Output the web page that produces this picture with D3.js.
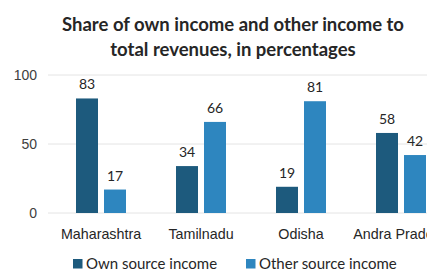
<!DOCTYPE html>
<html>
<head>
<meta charset="utf-8">
<script src="https://cdn.jsdelivr.net/npm/d3@7"></script>
<style>
  body { margin: 0; background: #fff; }
  svg { display: block; font-family: Lato, "Open Sans", sans-serif; }
  .title { font-weight: bold; font-size: 18.5px; fill: #262626; }
  .axis text { font-size: 14px; fill: #404040; }
  .x.axis text { font-size: 14.3px; fill: #262626; }
  .label { font-size: 14px; fill: #262626; }
  .legend text { font-size: 15px; fill: #262626; }
</style>
</head>
<body>
<div class="chart"></div>
<script>
var states = ["Maharashtra", "Tamilnadu", "Odisha", "Andra Pradesh"];
var seriesNames = ["Own source income", "Other source income"];
var ownIncome = [83, 34, 19, 58];
var otherIncome = [17, 66, 81, 42];
var yTicks = [0, 50, 100];
var colors = ["#1d5a7d", "#2e86bf"];

var width = 427, height = 271;
var margin = { top: 75, left: 51, bottom: 58 };

var svg = d3.select(".chart").append("svg")
  .attr("width", width)
  .attr("height", height);

var x = d3.scaleBand()
  .domain(states)
  .range([margin.left, margin.left + 400])
  .paddingInner(0.5)
  .paddingOuter(0.25);

var xSub = d3.scaleBand()
  .domain([0, 1])
  .range([0, x.bandwidth()])
  .paddingInner(6 / 28);

var y = d3.scaleLinear()
  .domain([0, 100])
  .range([height - margin.bottom, margin.top]);

// gridlines
svg.append("g")
  .selectAll("line")
  .data(yTicks)
  .enter().append("line")
  .attr("x1", margin.left - 3)
  .attr("x2", width)
  .attr("y1", d => y(d))
  .attr("y2", d => y(d))
  .attr("stroke", "#e4e4e4")
  .attr("stroke-width", 1);

var yAxis = svg.append("g")
  .attr("class", "y axis")
  .attr("transform", `translate(${margin.left - 14}, 0)`)
  .call(d3.axisLeft(y).tickValues(yTicks).tickSize(0).tickPadding(0));
yAxis.select(".domain").remove();

var xAxis = svg.append("g")
  .attr("class", "x axis")
  .attr("transform", `translate(0, ${y(0)})`)
  .call(d3.axisBottom(x).tickSize(0).tickPadding(16));
xAxis.select(".domain").remove();

var rows = states.map((s, i) => ({ state: s, values: [ownIncome[i], otherIncome[i]] }));

var groups = svg.append("g")
  .selectAll("g")
  .data(rows)
  .enter().append("g")
  .attr("transform", d => `translate(${x(d.state)}, 0)`);

groups.selectAll("rect")
  .data(d => d.values)
  .enter().append("rect")
  .attr("x", (d, i) => xSub(i))
  .attr("y", d => y(d))
  .attr("width", xSub.bandwidth())
  .attr("height", d => y(0) - y(d))
  .attr("fill", (d, i) => colors[i]);

groups.selectAll(".label")
  .data(d => d.values)
  .enter().append("text")
  .attr("class", "label")
  .attr("x", (d, i) => xSub(i) + xSub.bandwidth() / 2)
  .attr("y", d => y(d) - 9)
  .attr("text-anchor", "middle")
  .text(d => d);

// title
var title = svg.append("text")
  .attr("class", "title")
  .attr("text-anchor", "middle");
title.append("tspan").attr("x", 233).attr("y", 31).text("Share of own income and other income to");
title.append("tspan").attr("x", 233).attr("y", 56).text("total revenues, in percentages");

// legend
var legend = svg.append("g")
  .attr("class", "legend")
  .selectAll("g")
  .data(seriesNames)
  .enter().append("g")
  .attr("transform", (d, i) => `translate(${i === 0 ? 73 : 246}, 259)`);

legend.append("rect")
  .attr("width", 9.5)
  .attr("height", 9.5)
  .attr("fill", (d, i) => colors[i]);

legend.append("text")
  .attr("x", 13)
  .attr("y", 9.5)
  .text(d => d);
</script>
</body>
</html>
